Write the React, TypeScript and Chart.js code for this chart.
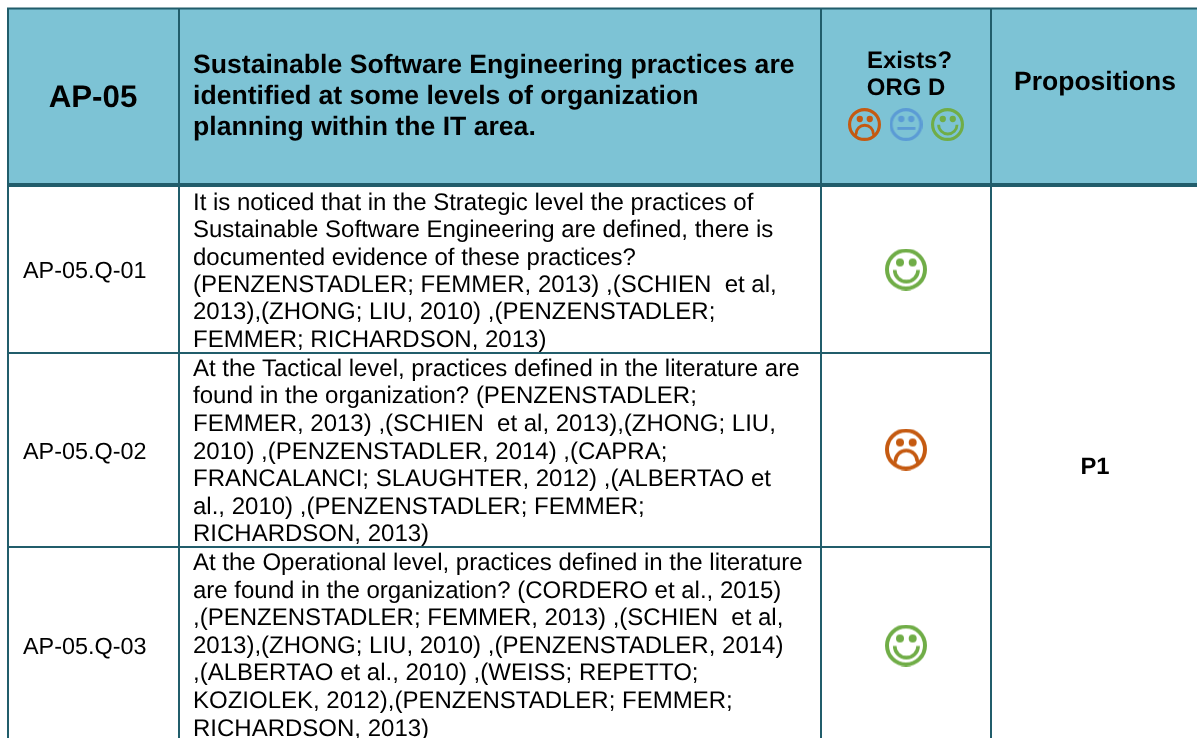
import React, { useEffect, useRef } from "react";
import { Chart, registerables } from "chart.js";

Chart.register(...registerables);

const FONT = '"Liberation Sans", Arial, sans-serif';
const LINE = "#215D6B";
const HEADER_FILL = "#7DC3D5";
const COLORS: Record<string, string> = { sad: "#C55A11", neutral: "#5B9BD5", happy: "#70AD47" };

const columnEdges = [8, 179, 821, 991, 1197];
const rowEdges = [8.5, 185, 353, 547, 760];
const headerTitle = "AP-05";
const headerQuestion = [
  "Sustainable Software Engineering practices are",
  "identified at some levels of organization",
  "planning within the IT area.",
];
const headerExists = ["Exists?", "ORG D"];
const headerProps = "Propositions";
const rowLabels = ["AP-05.Q-01", "AP-05.Q-02", "AP-05.Q-03"];
const rowTexts = [
  [
    "It is noticed that in the Strategic level the practices of",
    "Sustainable Software Engineering are defined, there is",
    "documented evidence of these practices?",
    "(PENZENSTADLER; FEMMER, 2013) ,(SCHIEN  et al,",
    "2013),(ZHONG; LIU, 2010) ,(PENZENSTADLER;",
    "FEMMER; RICHARDSON, 2013)",
  ],
  [
    "At the Tactical level, practices defined in the literature are",
    "found in the organization? (PENZENSTADLER;",
    "FEMMER, 2013) ,(SCHIEN  et al, 2013),(ZHONG; LIU,",
    "2010) ,(PENZENSTADLER, 2014) ,(CAPRA;",
    "FRANCALANCI; SLAUGHTER, 2012) ,(ALBERTAO et",
    "al., 2010) ,(PENZENSTADLER; FEMMER;",
    "RICHARDSON, 2013)",
  ],
  [
    "At the Operational level, practices defined in the literature",
    "are found in the organization? (CORDERO et al., 2015)",
    ",(PENZENSTADLER; FEMMER, 2013) ,(SCHIEN  et al,",
    "2013),(ZHONG; LIU, 2010) ,(PENZENSTADLER, 2014)",
    ",(ALBERTAO et al., 2010) ,(WEISS; REPETTO;",
    "KOZIOLEK, 2012),(PENZENSTADLER; FEMMER;",
    "RICHARDSON, 2013)",
  ],
];
const rowFirstBaseline = [209.7, 375.9, 570];
const rowLinePitch = [27.4, 27.55, 27.6];
const rowLabelBaseline = [278.3, 459.3, 654.3];
const rowStatus = ["happy", "sad", "happy"];
const rowSmileyY = [269.5, 449.5, 645.5];
const legendStatus = ["sad", "neutral", "happy"];
const legendSmileyX = [864.5, 906, 947.5];
const legendSmileyY = [124.5, 124.5, 124.5];
const smileyX = [906, 906, 906];
const mergedLabel = "P1";

function face(kind: string, d: number) {
  const c = document.createElement("canvas");
  c.width = d;
  c.height = d;
  const g = c.getContext("2d")!;
  const k = d / 42;
  const col = COLORS[kind];
  g.strokeStyle = col;
  g.fillStyle = col;
  g.lineWidth = 4 * k;
  g.lineCap = "butt";
  g.beginPath();
  g.arc(d / 2, d / 2, d / 2 - 2 * k, 0, Math.PI * 2);
  g.stroke();
  g.beginPath();
  g.arc(15 * k, 14 * k, 4 * k, 0, Math.PI * 2);
  g.fill();
  g.beginPath();
  g.arc(27.7 * k, 14 * k, 4 * k, 0, Math.PI * 2);
  g.fill();
  g.lineWidth = 3.6 * k;
  g.beginPath();
  if (kind === "happy") {
    g.arc(21.4 * k, 21.4 * k, 11.7 * k, 0, Math.PI);
  } else if (kind === "sad") {
    g.arc(21.3 * k, 33 * k, 11 * k, Math.PI, 2 * Math.PI);
    g.stroke();
    g.lineWidth = 3 * k;
    g.beginPath();
    g.moveTo(10.3 * k, 33 * k);
    g.lineTo(10 * k, 35.5 * k);
    g.moveTo(32.3 * k, 33 * k);
    g.lineTo(32.6 * k, 35.5 * k);
  } else {
    g.moveTo(10 * k, 26 * k);
    g.lineTo(33 * k, 26 * k);
  }
  g.stroke();
  return c;
}

export default function App() {
  const ref = useRef<HTMLCanvasElement>(null);
  useEffect(() => {
    document.body.style.margin = "0";
    const tablePlugin = {
      id: "tablePlugin",
      beforeDatasetsDraw(chart: any) {
        const { ctx, scales } = chart;
        const X = (v: number) => scales.x.getPixelForValue(v);
        const Y = (v: number) => scales.y.getPixelForValue(v);
        ctx.save();
        ctx.fillStyle = "#FFFFFF";
        ctx.fillRect(0, 0, chart.width, chart.height);
        ctx.fillStyle = HEADER_FILL;
        ctx.fillRect(X(columnEdges[0]), Y(rowEdges[0]), X(columnEdges[4]) - X(columnEdges[0]), Y(rowEdges[1]) - Y(rowEdges[0]));
        ctx.strokeStyle = LINE;
        const h = (y: number, a: number, b: number, w: number) => {
          ctx.lineWidth = w;
          ctx.beginPath();
          ctx.moveTo(X(a), Y(y));
          ctx.lineTo(X(b), Y(y));
          ctx.stroke();
        };
        const v = (x: number, a: number, b: number, w: number) => {
          ctx.lineWidth = w;
          ctx.beginPath();
          ctx.moveTo(X(x), Y(a));
          ctx.lineTo(X(x), Y(b));
          ctx.stroke();
        };
        columnEdges.slice(0, 4).forEach((x) => v(x, rowEdges[0], rowEdges[4], 2));
        h(rowEdges[0], columnEdges[0] - 1, columnEdges[4], 2);
        h(rowEdges[1], columnEdges[0] - 1, columnEdges[4], 4);
        h(rowEdges[2], columnEdges[0], columnEdges[3], 2);
        h(rowEdges[3], columnEdges[0], columnEdges[3], 2);

        ctx.textRendering = "geometricPrecision";
        const text = (s: string, x: number, y: number, font: string, align: CanvasTextAlign = "left") => {
          ctx.font = font;
          ctx.textAlign = align;
          ctx.textBaseline = "alphabetic";
          ctx.fillStyle = "#000000";
          ctx.fillText(s, X(x), Y(y));
        };
        text(headerTitle, 93, 107.3, `bold 31.3px ${FONT}`, "center");
        headerQuestion.forEach((s, i) => text(s, 193, 73.3 + i * 31, `bold 26.6px ${FONT}`));
        text(headerExists[0], 909.5, 68, `bold 23.9px ${FONT}`, "center");
        text(headerExists[1], 906, 95, `bold 23.9px ${FONT}`, "center");
        text(headerProps, 1095, 90.2, `bold 26.5px ${FONT}`, "center");
        rowLabels.forEach((s, i) => text(s, 23, rowLabelBaseline[i], `23.4px ${FONT}`));
        rowTexts.forEach((lines, i) =>
          lines.forEach((s, j) => text(s, 193, rowFirstBaseline[i] + j * rowLinePitch[i], `24px ${FONT}`))
        );
        text(mergedLabel, 1095, 474, `bold 23.8px ${FONT}`, "center");
        ctx.restore();
      },
    };
    const chart = new Chart(ref.current!, {
      type: "scatter",
      data: {
        datasets: [
          {
            label: "Answers",
            data: rowStatus.map((_, i) => ({ x: smileyX[i], y: rowSmileyY[i] })),
            pointStyle: rowStatus.map((s) => face(s, 42)) as any,
            pointRadius: 21,
          },
          {
            label: "Legend",
            data: legendStatus.map((_, i) => ({ x: legendSmileyX[i], y: legendSmileyY[i] })),
            pointStyle: legendStatus.map((s) => face(s, 33)) as any,
            pointRadius: 16.5,
          },
        ],
      },
      options: {
        animation: false,
        responsive: false,
        layout: { padding: 0, autoPadding: false },
        events: [],
        scales: {
          x: { type: "linear", min: 0, max: 1197, display: false },
          y: { type: "linear", min: 0, max: 738, reverse: true, display: false },
        },
        plugins: { legend: { display: false }, tooltip: { enabled: false }, title: { display: false } },
      },
      plugins: [tablePlugin],
    });
    return () => chart.destroy();
  }, []);
  return <canvas ref={ref} width={1197} height={738} style={{ display: "block" }} />;
}
